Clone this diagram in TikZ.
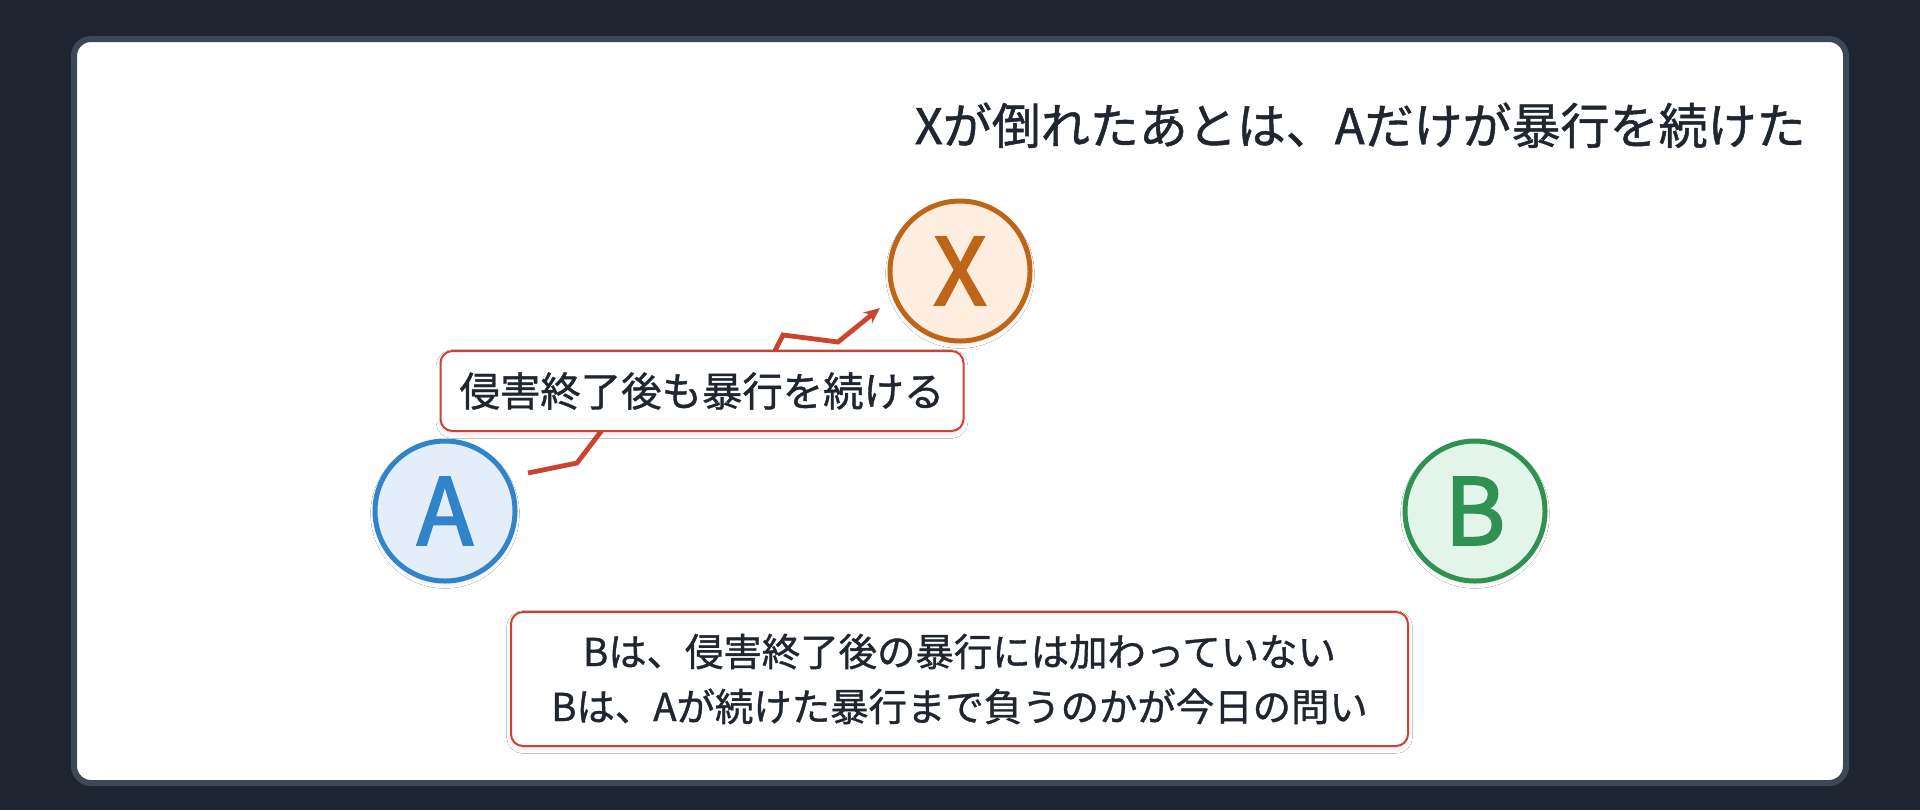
\documentclass[tikz,border=0pt]{standalone}
\usepackage{fontspec}
\setmainfont{Noto Sans CJK JP}[FakeBold=1]
\newfontfamily\letterfont{Noto Sans CJK JP}[FakeBold=2.5]
\usetikzlibrary{arrows.meta, shadows.blur}

\definecolor{pagebg}{HTML}{1E2530}
\definecolor{panelline}{HTML}{3D4757}
\definecolor{ink}{HTML}{1F2630}
\definecolor{hitred}{HTML}{CC4430}
\definecolor{aline}{HTML}{3183CC}
\definecolor{afill}{HTML}{E3EEFA}
\definecolor{xline}{HTML}{BF6517}
\definecolor{xfill}{HTML}{FDEEDF}
\definecolor{bline}{HTML}{2F9152}
\definecolor{bfill}{HTML}{E3F5E8}

\begin{document}
\begin{tikzpicture}[
        x=0.5pt, y=-0.5pt,
        person/.style={circle, line width=2.5pt, minimum size=70pt, inner sep=0pt,
            font=\letterfont\fontsize{46pt}{46pt}\selectfont,
            blur shadow={shadow xshift=0pt, shadow yshift=-1.5pt, shadow blur steps=8, shadow opacity=12}},
        note/.style={rectangle, draw=hitred, line width=1pt, fill=white, rounded corners=6pt, text=ink,
            blur shadow={shadow xshift=0pt, shadow yshift=-1.5pt, shadow blur steps=8, shadow opacity=10}},
        hit/.style={draw=hitred, line width=2.4pt, line join=miter, -{Stealth[length=8pt, width=7pt]}}
    ]

    % Background and panel
    \fill[pagebg] (0,0) rectangle (1920,810);
    \useasboundingbox (0,0) rectangle (1920,810);
    \draw[fill=white, draw=panelline, line width=3pt, rounded corners=8.5pt] (74,39) rectangle (1846,783);

    % Title
    \node (title) [anchor=base east, inner sep=0pt, text=ink, font=\fontsize{24.5pt}{24.5pt}\selectfont] at (1806,144)
        {Xが倒れたあとは、Aだけが暴行を続けた};

    % Nodes
    \node (A) [person, draw=aline, fill=afill, text=aline] at (445,511) {A};
    \node (X) [person, draw=xline, fill=xfill, text=xline] at (960,271) {X};
    \node (B) [person, draw=bline, fill=bfill, text=bline] at (1475,511) {B};

    % Arrows
    \coordinate (z0) at (528,473);
    \coordinate (z1) at (577,463);
    \coordinate (z2) at (612,417);
    \coordinate (z3) at (760,380);
    \coordinate (z4) at (783,335);
    \coordinate (z5) at (838,342);
    \coordinate (z6) at (880,308);
    \draw [hit] (z0) -- (z1) -- (z2) -- (z3) -- (z4) -- (z5) -- (z6);

    % Notes
    \node (keepgoing) [note, minimum width=261.5pt, minimum height=40pt,
        font=\fontsize{20.2pt}{20.2pt}\selectfont] at (702,391) {侵害終了後も暴行を続ける};
    \node (question) [note, minimum width=448.5pt, minimum height=67pt, align=center,
        font=\fontsize{19.2pt}{27.5pt}\selectfont] at (959.5,679)
        {Bは、侵害終了後の暴行には加わっていない\\Bは、Aが続けた暴行まで負うのかが今日の問い};

\end{tikzpicture}
\end{document}
